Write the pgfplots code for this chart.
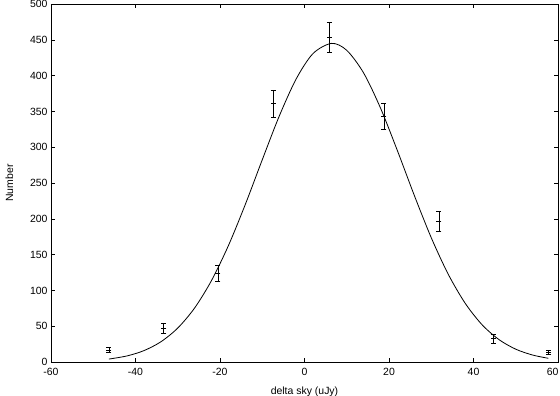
\documentclass[border=0pt]{standalone}
\usepackage{fontspec}
\setmainfont{Liberation Sans}
\usepackage{pgfplots}
\pgfplotsset{compat=1.18}

\pgfplotstableread{
x y err
-46.3 16.8 4
-33.3 47 7.5
-20.5 124 11.5
-7.4 361 19
5.9 453 21
18.8 343 18
31.8 196 14
44.7 32.6 6
57.8 13.8 3
}\counts

\begin{document}
\begin{tikzpicture}
\begin{axis}[
  scale only axis,
  width=507bp, height=358bp,
  xmin=-60, xmax=60, ymin=0, ymax=500,
  xtick={-60,-40,...,60}, ytick={0,50,...,500},
  xticklabels={-60,-40,-20,0,20,40,\makebox[0pt][r]{60}\kern-1bp},
  tick align=inside, major tick length=4bp,
  axis line style={line width=0.8bp},
  tick style={line width=0.6bp, black},
  xlabel={delta sky (uJy)}, ylabel={Number},
  xticklabel style={yshift=-3bp},
  xlabel style={yshift=-4bp},
  ylabel style={yshift=10bp},
  tick label style={font=\fontsize{10.5}{12}\selectfont},
  label style={font=\fontsize{10.5}{12}\selectfont},
  /pgf/number format/assume math mode=true,
]
\addplot[black, only marks, mark=-, mark size=2.5bp,
  mark options={line width=0.7bp},
  error bars/.cd, y dir=both, y explicit,
  error mark=|, error mark options={mark size=2.5bp, line width=0.7bp},
  error bar style={line width=0.7bp}]
  table[x=x, y=y, y error=err] {\counts};
\addplot[black, line width=0.8bp, smooth, no marks] coordinates {
(-46.3,4.1) (-42,8.5) (-38,15.9) (-34,28.2) (-30,47.4) (-26,75.5)
(-22,113.9) (-18,162.7) (-14,220.2) (-10,282.4) (-6,343.1) (-2,395)
(2,430.7) (6.4,445) (10,435.3) (14,403.6) (18,354.5) (22,295)
(26,232.5) (30,173.6) (34,122.8) (38,82.3) (42,52.2) (46,31.4)
(50,17.9) (54,9.7) (57.7,5.2)};
\end{axis}
\pgfresetboundingbox
\path[use as bounding box] (-51bp,-34bp) rectangle (509bp,362bp);
\end{tikzpicture}
\end{document}
